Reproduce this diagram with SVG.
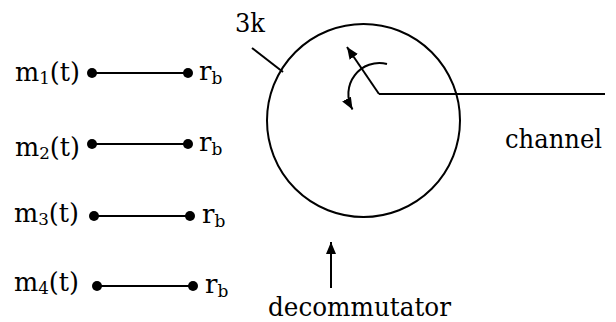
<svg xmlns="http://www.w3.org/2000/svg" width="616" height="322" viewBox="0 0 616 322">
<style>
.t{font-family:"DejaVu Serif",serif;font-size:26px;fill:#000}
.sub{font-size:17px}
.ln{stroke:#000;stroke-width:2;fill:none}
.dot{fill:#000}
</style>
<defs>
<marker id="ah" markerUnits="userSpaceOnUse" markerWidth="14" markerHeight="12" refX="12" refY="5" orient="auto">
<path d="M0,0 L12,5 L0,10 Z" fill="#000"/>
</marker>
</defs>
<rect width="616" height="322" fill="#fff"/>
<g id="input1">
<text class="t" x="15" y="81" textLength="65" lengthAdjust="spacingAndGlyphs">m<tspan class="sub" dy="3">1</tspan><tspan dy="-3">(t)</tspan></text>
<circle class="dot" cx="92" cy="73" r="5"/>
<circle class="dot" cx="188" cy="73" r="5"/>
<text class="t" x="199" y="80">r<tspan class="sub" dy="4">b</tspan></text>
</g>
<g id="input2">
<text class="t" x="15" y="156" textLength="65" lengthAdjust="spacingAndGlyphs">m<tspan class="sub" dy="3">2</tspan><tspan dy="-3">(t)</tspan></text>
<circle class="dot" cx="92" cy="144" r="5"/>
<circle class="dot" cx="188" cy="144" r="5"/>
<text class="t" x="199" y="151">r<tspan class="sub" dy="4">b</tspan></text>
</g>
<g id="input3">
<text class="t" x="14" y="222" textLength="65" lengthAdjust="spacingAndGlyphs">m<tspan class="sub" dy="3">3</tspan><tspan dy="-3">(t)</tspan></text>
<circle class="dot" cx="94" cy="216" r="5"/>
<circle class="dot" cx="190" cy="216" r="5"/>
<text class="t" x="202" y="223">r<tspan class="sub" dy="4">b</tspan></text>
</g>
<g id="input4">
<text class="t" x="14" y="291" textLength="65" lengthAdjust="spacingAndGlyphs">m<tspan class="sub" dy="3">4</tspan><tspan dy="-3">(t)</tspan></text>
<circle class="dot" cx="97" cy="286" r="5"/>
<circle class="dot" cx="193" cy="286" r="5"/>
<text class="t" x="205" y="293">r<tspan class="sub" dy="4">b</tspan></text>
</g>
<g id="commutator">
<circle class="ln" cx="363.5" cy="120.5" r="96.5"/>
<text class="t" x="235" y="32" textLength="30" lengthAdjust="spacingAndGlyphs">3k</text>
</g>
<g id="channel">
<text class="t" x="505" y="148" textLength="97" lengthAdjust="spacingAndGlyphs">channel</text>
</g>
<g id="decommutator">
<text class="t" x="268" y="316" textLength="183" lengthAdjust="spacingAndGlyphs">decommutator</text>
</g>
<g id="connectors">
<line class="ln" x1="92" y1="73" x2="188" y2="73"/>
<line class="ln" x1="92" y1="144" x2="188" y2="144"/>
<line class="ln" x1="94" y1="216" x2="190" y2="216"/>
<line class="ln" x1="97" y1="286" x2="193" y2="286"/>
<line class="ln" x1="252" y1="48" x2="283" y2="72"/>
<line class="ln" x1="379" y1="94" x2="605" y2="94"/>
<line class="ln" x1="379" y1="94" x2="347" y2="47" marker-end="url(#ah)"/>
<path class="ln" d="M387,64 A31,31 0 0 0 352.5,109.5" marker-end="url(#ah)"/>
<line class="ln" x1="331" y1="288" x2="331" y2="242" marker-end="url(#ah)"/>
</g>
</svg>
